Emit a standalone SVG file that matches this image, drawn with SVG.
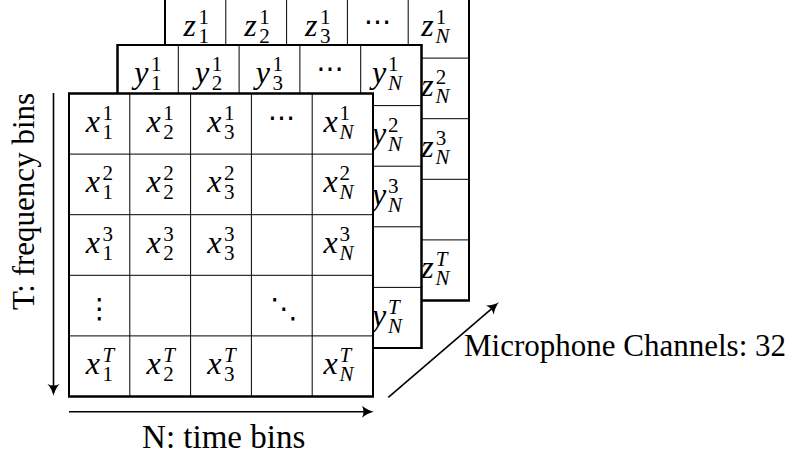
<svg xmlns="http://www.w3.org/2000/svg" width="798" height="457" viewBox="0 0 798 457" font-family="Liberation Serif, Times New Roman, serif">
<style>
  .frame{fill:#fff;stroke:#000;stroke-width:2}
  .grid{stroke:#000;stroke-width:1;fill:none}
  .m{font-family:Liberation Serif, Times New Roman, serif;font-style:italic;font-size:32px;fill:#000}
  .s{font-style:normal;font-size:21px}
  .si{font-style:italic;font-size:21px}
  .dots{font-family:DejaVu Sans, sans-serif;font-size:28px;text-anchor:middle;fill:#000}
  .lab{font-family:Liberation Serif, Times New Roman, serif;font-size:31px;fill:#000}
  .arr{stroke:#000;stroke-width:1.6;fill:none}
</style>
<defs>
  <marker id="ah" markerUnits="userSpaceOnUse" markerWidth="14" markerHeight="14" viewBox="-13 -7 14 14" refX="-3" refY="0" orient="auto">
    <path d="M-12,-6 C-8,-2.5 -3.5,-0.6 0,0 C-3.5,0.6 -8,2.5 -12,6 C-10,2 -10,-2 -12,-6 Z" fill="#000"/>
  </marker>
</defs>
<rect width="798" height="457" fill="#fff"/>

<!-- Z layer (back) -->
<g id="layer-z">
  <rect class="frame" x="165" y="-2.5" width="304" height="303"/>
  <path class="grid" d="M225.8,-2.5V300.5M286.6,-2.5V300.5M347.4,-2.5V300.5M408.2,-2.5V300.5M165,58.1H469M165,118.7H469M165,179.3H469M165,239.9H469"/>
  <rect x="165" y="-2.5" width="304" height="303" fill="none" stroke="#000" stroke-width="2"/>
  <g id="z-1-1"><text class="m" x="183.5" y="35.8">z<tspan class="s" dx="2.5" dy="-12">1</tspan><tspan class="s" x="198.4" dy="19">1</tspan></text></g>
  <g id="z-1-2"><text class="m" x="244.3" y="35.8">z<tspan class="s" dx="2.5" dy="-12">1</tspan><tspan class="s" x="259.2" dy="19">2</tspan></text></g>
  <g id="z-1-3"><text class="m" x="305.1" y="35.8">z<tspan class="s" dx="2.5" dy="-12">1</tspan><tspan class="s" x="320" dy="19">3</tspan></text></g>
  <g id="z-1-4"><text class="dots" x="377.8" y="30.8">⋯</text></g>
  <g id="z-1-N"><text class="m" x="421.2" y="35.8">z<tspan class="s" dx="2" dy="-12">1</tspan><tspan class="si" x="435.6" dy="19">N</tspan></text></g>
  <g id="z-2-N"><text class="m" x="421.2" y="96.4">z<tspan class="s" dx="2" dy="-12">2</tspan><tspan class="si" x="435.6" dy="19">N</tspan></text></g>
  <g id="z-3-N"><text class="m" x="421.2" y="157">z<tspan class="s" dx="2" dy="-12">3</tspan><tspan class="si" x="435.6" dy="19">N</tspan></text></g>
  <g id="z-T-N"><text class="m" x="421.2" y="278.2">z<tspan class="si" dx="2" dy="-12">T</tspan><tspan class="si" x="435.6" dy="19">N</tspan></text></g>
</g>

<!-- Y layer (middle) -->
<g id="layer-y">
  <rect class="frame" x="117.5" y="45" width="304" height="303"/>
  <path class="grid" d="M178.3,45V348M239.1,45V348M299.9,45V348M360.7,45V348M117.5,105.6H421.5M117.5,166.2H421.5M117.5,226.8H421.5M117.5,287.4H421.5"/>
  <rect x="117.5" y="45" width="304" height="303" fill="none" stroke="#000" stroke-width="2"/>
  <g id="y-1-1"><text class="m" x="134.2" y="83.3">y<tspan class="s" dx="2.5" dy="-12">1</tspan><tspan class="s" x="150.9" dy="19">1</tspan></text></g>
  <g id="y-1-2"><text class="m" x="195" y="83.3">y<tspan class="s" dx="2.5" dy="-12">1</tspan><tspan class="s" x="211.7" dy="19">2</tspan></text></g>
  <g id="y-1-3"><text class="m" x="255.8" y="83.3">y<tspan class="s" dx="2.5" dy="-12">1</tspan><tspan class="s" x="272.5" dy="19">3</tspan></text></g>
  <g id="y-1-4"><text class="dots" x="330.3" y="78.3">⋯</text></g>
  <g id="y-1-N"><text class="m" x="371.9" y="83.3">y<tspan class="s" dx="2" dy="-12">1</tspan><tspan class="si" x="388.1" dy="19">N</tspan></text></g>
  <g id="y-2-N"><text class="m" x="371.9" y="143.9">y<tspan class="s" dx="2" dy="-12">2</tspan><tspan class="si" x="388.1" dy="19">N</tspan></text></g>
  <g id="y-3-N"><text class="m" x="371.9" y="204.5">y<tspan class="s" dx="2" dy="-12">3</tspan><tspan class="si" x="388.1" dy="19">N</tspan></text></g>
  <g id="y-T-N"><text class="m" x="371.9" y="325.7">y<tspan class="si" dx="2" dy="-12">T</tspan><tspan class="si" x="388.1" dy="19">N</tspan></text></g>
</g>

<!-- X layer (front) -->
<g id="layer-x">
  <rect class="frame" x="69" y="93.5" width="304" height="303"/>
  <path class="grid" d="M129.8,93.5V396.5M190.6,93.5V396.5M251.4,93.5V396.5M312.2,93.5V396.5M69,154.1H373M69,214.7H373M69,275.3H373M69,335.9H373"/>
  <rect x="69" y="93.5" width="304" height="303" fill="none" stroke="#000" stroke-width="2"/>
  <g id="x-1-1"><text class="m" x="85.7" y="131.8">x<tspan class="s" dx="2.5" dy="-12">1</tspan><tspan class="s" x="102.4" dy="19">1</tspan></text></g>
  <g id="x-1-2"><text class="m" x="146.5" y="131.8">x<tspan class="s" dx="2.5" dy="-12">1</tspan><tspan class="s" x="163.2" dy="19">2</tspan></text></g>
  <g id="x-1-3"><text class="m" x="207.3" y="131.8">x<tspan class="s" dx="2.5" dy="-12">1</tspan><tspan class="s" x="224" dy="19">3</tspan></text></g>
  <g id="x-1-4"><text class="dots" x="281.8" y="126.8">⋯</text></g>
  <g id="x-1-N"><text class="m" x="323.4" y="131.8">x<tspan class="s" dx="2" dy="-12">1</tspan><tspan class="si" x="339.6" dy="19">N</tspan></text></g>

  <g id="x-2-1"><text class="m" x="85.7" y="192.4">x<tspan class="s" dx="2.5" dy="-12">2</tspan><tspan class="s" x="102.4" dy="19">1</tspan></text></g>
  <g id="x-2-2"><text class="m" x="146.5" y="192.4">x<tspan class="s" dx="2.5" dy="-12">2</tspan><tspan class="s" x="163.2" dy="19">2</tspan></text></g>
  <g id="x-2-3"><text class="m" x="207.3" y="192.4">x<tspan class="s" dx="2.5" dy="-12">2</tspan><tspan class="s" x="224" dy="19">3</tspan></text></g>
  <g id="x-2-N"><text class="m" x="323.4" y="192.4">x<tspan class="s" dx="2" dy="-12">2</tspan><tspan class="si" x="339.6" dy="19">N</tspan></text></g>

  <g id="x-3-1"><text class="m" x="85.7" y="253">x<tspan class="s" dx="2.5" dy="-12">3</tspan><tspan class="s" x="102.4" dy="19">1</tspan></text></g>
  <g id="x-3-2"><text class="m" x="146.5" y="253">x<tspan class="s" dx="2.5" dy="-12">3</tspan><tspan class="s" x="163.2" dy="19">2</tspan></text></g>
  <g id="x-3-3"><text class="m" x="207.3" y="253">x<tspan class="s" dx="2.5" dy="-12">3</tspan><tspan class="s" x="224" dy="19">3</tspan></text></g>
  <g id="x-3-N"><text class="m" x="323.4" y="253">x<tspan class="s" dx="2" dy="-12">3</tspan><tspan class="si" x="339.6" dy="19">N</tspan></text></g>

  <g id="x-4-1"><text class="dots" x="99.4" y="318">⋮</text></g>
  <g id="x-4-4"><text class="dots" x="284" y="318">⋱</text></g>

  <g id="x-T-1"><text class="m" x="85.7" y="374.2">x<tspan class="si" dx="2.5" dy="-12">T</tspan><tspan class="s" x="102.4" dy="19">1</tspan></text></g>
  <g id="x-T-2"><text class="m" x="146.5" y="374.2">x<tspan class="si" dx="2.5" dy="-12">T</tspan><tspan class="s" x="163.2" dy="19">2</tspan></text></g>
  <g id="x-T-3"><text class="m" x="207.3" y="374.2">x<tspan class="si" dx="2.5" dy="-12">T</tspan><tspan class="s" x="224" dy="19">3</tspan></text></g>
  <g id="x-T-N"><text class="m" x="323.4" y="374.2">x<tspan class="si" dx="2" dy="-12">T</tspan><tspan class="si" x="339.6" dy="19">N</tspan></text></g>
</g>

<!-- Connectors -->
<g id="connectors">
  <path class="arr" marker-end="url(#ah)" d="M53.5,93V393"/>
  <path class="arr" marker-end="url(#ah)" d="M69,411.7H371"/>
  <path class="arr" marker-end="url(#ah)" d="M388.3,397.3L496.7,304.3"/>
</g>

<!-- Labels -->
<g id="labels">
  <text class="lab" text-anchor="middle" transform="translate(33.5,201.5) rotate(-90)">T: frequency bins</text>
  <text class="lab" x="223.7" y="448.3" text-anchor="middle" font-size="33" style="font-size:33px">N: time bins</text>
  <text class="lab" x="464" y="356">Microphone Channels: 32</text>
</g>
</svg>
